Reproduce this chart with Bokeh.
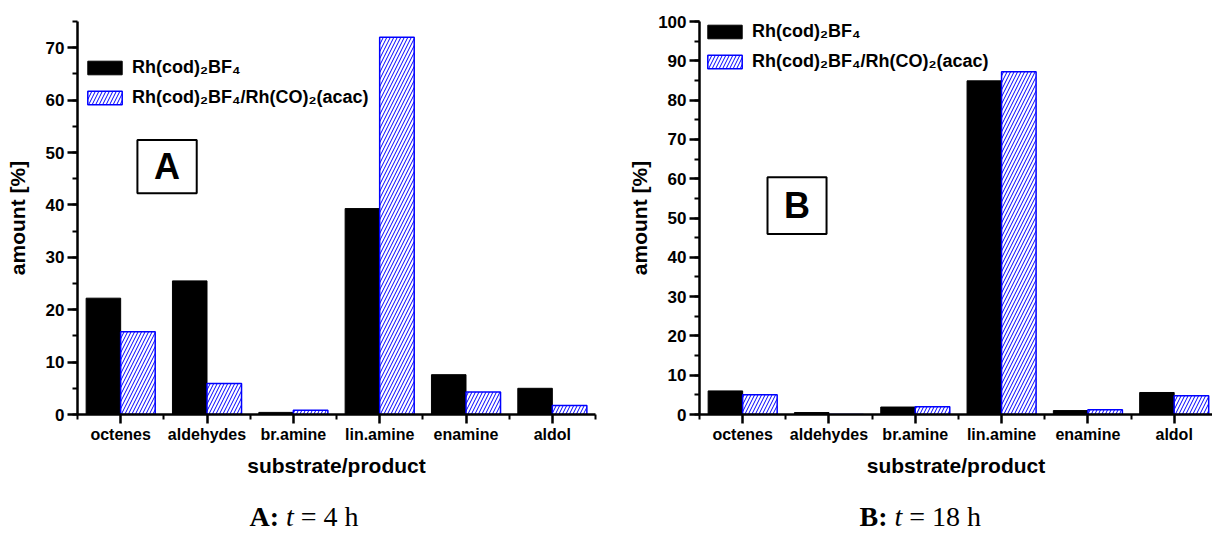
from bokeh.plotting import figure
from bokeh.models import (Range1d, FixedTicker, SingleIntervalTicker, Legend, LegendItem,
                          Label, BoxAnnotation, ColumnDataSource)
from bokeh.layouts import row, column
from bokeh.embed import file_html
from bokeh.resources import INLINE

# ---------------- data ----------------
categories = ["octenes", "aldehydes", "br.amine", "lin.amine", "enamine", "aldol"]
series_names = ["Rh(cod)\u2082BF\u2084", "Rh(cod)\u2082BF\u2084/Rh(CO)\u2082(acac)"]

a_rh_cod = [22.2, 25.5, 0.4, 39.3, 7.6, 5.0]       # panel A, t = 4 h
a_rh_mix = [15.8, 5.9, 0.8, 72.0, 4.3, 1.7]

b_rh_cod = [6.0, 0.5, 1.9, 84.9, 1.0, 5.6]         # panel B, t = 18 h
b_rh_mix = [5.0, 0.0, 2.0, 87.2, 1.2, 4.8]

x_title = "substrate/product"
y_title = "amount [%]"
captions = [[("A:", "bold"), ("t", "italic"), ("= 4 h", "normal")],
            [("B:", "bold"), ("t", "italic"), ("= 18 h", "normal")]]

SANS = "Liberation Sans"
SERIF = "Liberation Serif"
BLUE = "#0000ff"
PANEL_H = 490
CAP_H = 535 - PANEL_H


def make_panel(black_vals, hatch_vals, ymax, width, border_left, border_right, border_top,
               x_end, legend_loc, letter, letter_box, ylabel_standoff):
    n = len(categories)
    pos = [i + 1 for i in range(n)]
    p = figure(width=width, height=PANEL_H, x_range=Range1d(0.5, x_end),
               y_range=Range1d(0, ymax),
               min_border_left=border_left, min_border_right=border_right,
               min_border_top=border_top, min_border_bottom=PANEL_H - border_top - 394,
               output_backend="svg", toolbar_location=None)
    p.outline_line_color = None
    p.xgrid.visible = False
    p.ygrid.visible = False
    p.background_fill_color = "white"
    p.border_fill_color = "white"

    src = ColumnDataSource(dict(
        xb=[v - 0.2 for v in pos], xh=[v + 0.2 for v in pos],
        b=black_vals, h=hatch_vals))
    r1 = p.vbar(x="xb", top="b", width=0.4, bottom=0, source=src,
                fill_color="black", line_color="black", line_width=1)
    r2 = p.vbar(x="xh", top="h", width=0.4, bottom=0, source=src,
                fill_color="white", line_color=BLUE, line_width=1.5,
                hatch_pattern="/", hatch_color=BLUE, hatch_scale=7, hatch_weight=1)

    for ax in (p.xaxis[0], p.yaxis[0]):
        ax.axis_line_width = 2.5
        ax.major_tick_line_width = 2.5
        ax.minor_tick_line_width = 2
        ax.major_tick_in = 0
        ax.minor_tick_in = 0
        ax.major_label_text_font = SANS
        ax.major_label_text_font_style = "bold"
        ax.major_label_text_font_size = "16px"
        ax.major_label_text_color = "black"
        ax.axis_label_text_font = SANS
        ax.axis_label_text_font_style = "bold"
        ax.axis_label_text_font_size = "21px"
        ax.axis_label_text_color = "black"

    xa = p.xaxis[0]
    xa.ticker = FixedTicker(ticks=pos, minor_ticks=[v - 0.5 for v in pos] + [n + 0.5])
    xa.major_label_overrides = {v: c for v, c in zip(pos, categories)}
    xa.major_tick_out = 9
    xa.minor_tick_out = 5
    xa.major_label_standoff = 2
    xa.axis_label = x_title
    xa.axis_label_standoff = 8

    ya = p.yaxis[0]
    ya.ticker = SingleIntervalTicker(interval=10, num_minor_ticks=2)
    ya.major_tick_out = 10
    ya.minor_tick_out = 5
    ya.major_label_standoff = 3
    ya.major_label_text_font_size = "17px"
    ya.axis_label = y_title
    ya.axis_label_standoff = ylabel_standoff

    legend = Legend(items=[LegendItem(label=series_names[0], renderers=[r1]),
                           LegendItem(label=series_names[1], renderers=[r2])],
                    location=legend_loc, orientation="vertical",
                    glyph_width=43, glyph_height=17, label_height=25, spacing=5,
                    label_standoff=6, padding=0, margin=0,
                    border_line_color=None, background_fill_alpha=0,
                    label_text_font=SANS, label_text_font_style="bold",
                    label_text_font_size="18px", label_text_color="black")
    p.add_layout(legend)

    x0, x1, y0, y1 = letter_box
    p.add_layout(BoxAnnotation(left=x0, right=x1, bottom=y0, top=y1, fill_color="white",
                               fill_alpha=1, line_color="black", line_alpha=1, line_width=2))
    p.add_layout(Label(x=(x0 + x1) / 2, y=(y0 + y1) / 2, text=letter, text_font=SANS,
                       text_font_style="bold", text_font_size="36px", text_align="center",
                       text_baseline="middle", text_color="black"))
    return p


pA = make_panel(a_rh_cod, a_rh_mix, 75, 606, 77, 11, 20, 6.5, (6, 304), "A",
                (1.194, 1.881, 42.2, 52.4), 14)
pB = make_panel(b_rh_cod, b_rh_mix, 100, 606, 93, 0, 21, 6.444, (4, 340), "B",
                (1.288, 1.972, 45.9, 60.4), 4)

# caption strip below both panels
cap = figure(width=1212, height=CAP_H, x_range=Range1d(0, 1212), y_range=Range1d(0, CAP_H),
             min_border=0, min_border_left=0, min_border_right=0, min_border_top=0,
             min_border_bottom=0, output_backend="svg", toolbar_location=None)
cap.axis.visible = False
cap.grid.visible = False
cap.outline_line_color = None
caption_left = [249, 859]
caption_offsets = [[0, 36.5, 51.3], [0, 35.0, 49.8]]
for parts, left, offs in zip(captions, caption_left, caption_offsets):
    for (txt, style), off in zip(parts, offs):
        cap.add_layout(Label(x=left, y=19, x_offset=off, text=txt, text_font=SERIF,
                             text_font_style=style, text_font_size="28px", text_align="left",
                             text_baseline="middle", text_color="black"))

layout = column(row(pA, pB), cap)
open("out.html", "w").write(file_html(layout, INLINE))
